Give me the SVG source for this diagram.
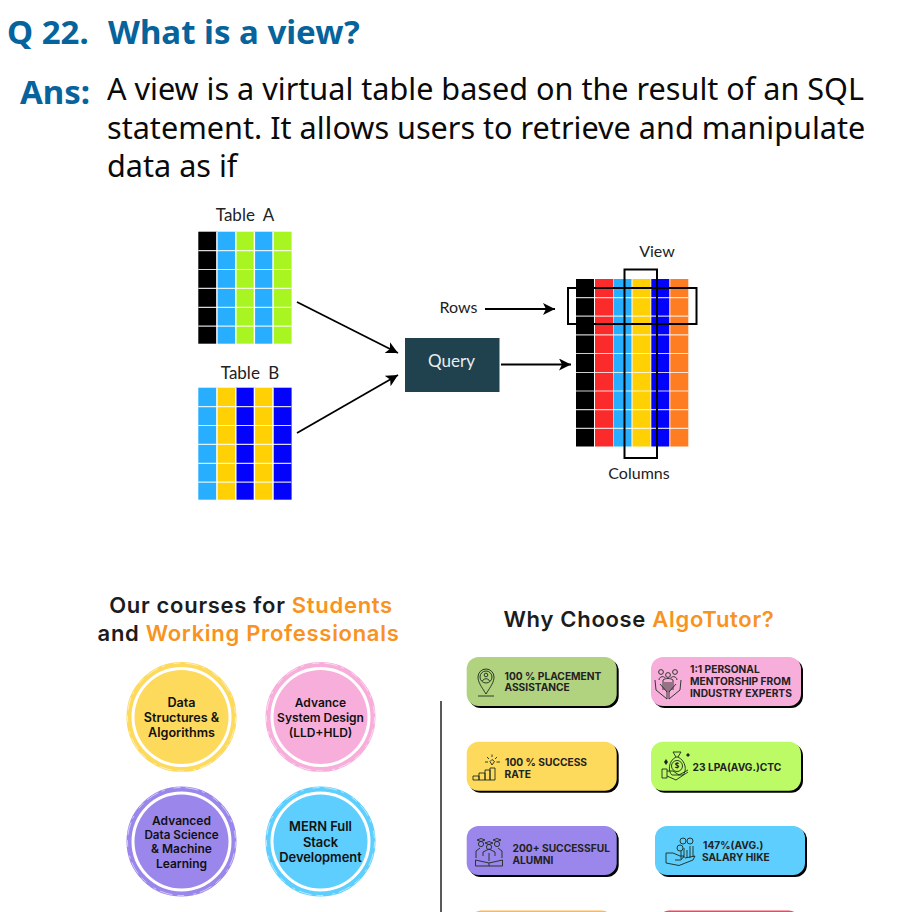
<svg xmlns="http://www.w3.org/2000/svg" width="910" height="912" viewBox="0 0 910 912">
<defs>
<marker id="ah" markerUnits="userSpaceOnUse" markerWidth="14" markerHeight="14" refX="12" refY="6" orient="auto"><path d="M0 0L12 6L0 12L3 6Z" fill="#000"/></marker>
<g id="g6"><path d="M0 18.9H93M0 37.8H93M0 56.7H93M0 75.6H93M0 94.5H93" stroke="#fff" stroke-width="1.2" opacity=".85"/><path d="M18.6 0V112.5M37.5 0V112.5M56.1 0V112.5M74.7 0V112.5" stroke="#fff" stroke-width="1.4"/></g>
</defs>
<style>
text{font-family:"Noto Sans","Open Sans",sans-serif}
.h{font-size:33px;font-weight:700;fill:#06639b}
.b{font-size:30.6px;fill:#0a0a0a}
.d{font-family:Lato,"Noto Sans",sans-serif;font-size:16px;fill:#222}
.tb{font-size:17px;word-spacing:4px}
.t{font-family:Inter,"Noto Sans",sans-serif;font-weight:600;font-size:22px;letter-spacing:.7px;fill:#1c1c1c}
.o{fill:#f7931e}
.c{font-family:Inter,"Noto Sans",sans-serif;font-weight:600;font-size:12.6px;fill:#111;text-anchor:middle}
.k{font-family:Inter,"Noto Sans",sans-serif;font-weight:700;font-size:10.2px;fill:#222}
.i{fill:none;stroke:#1d2a1d;stroke-width:.9}
.ol{fill:none;stroke-width:5}
.tr{fill:none;stroke:#fff;stroke-width:.8;stroke-dasharray:7 5 13 4 3 9;opacity:.7}
.box{fill:none;stroke:#000;stroke-width:2}
</style>
<rect width="910" height="912" fill="#fff"/>
<g id="header">
<text class="h" x="7" y="44">Q 22.</text>
<text class="h" x="108" y="44">What is a view?</text>
<text class="h" x="20" y="104">Ans:</text>
<text class="b" x="107" y="100">A view is a virtual table based on the result of an SQL</text>
<text class="b" x="107" y="139">statement. It allows users to retrieve and manipulate</text>
<text class="b" x="107" y="177">data as if</text>
</g>
<g id="table-a">
<text class="d tb" x="245" y="221" text-anchor="middle">Table A</text>
<g transform="translate(198.3 231.7)">
<rect width="18.6" height="112" fill="#000"/><rect x="18.6" width="18.9" height="112" fill="#27aefe"/><rect x="37.5" width="18.6" height="112" fill="#a8f521"/><rect x="56.1" width="18.6" height="112" fill="#27aefe"/><rect x="74.7" width="18.6" height="112" fill="#a8f521"/>
<use href="#g6"/></g>
</g>
<g id="table-b">
<text class="d tb" x="250" y="379" text-anchor="middle">Table B</text>
<g transform="translate(198.3 387.7)">
<rect width="18.6" height="112" fill="#27aefe"/><rect x="18.6" width="18.9" height="112" fill="#ffd105"/><rect x="37.5" width="18.6" height="112" fill="#0303fb"/><rect x="56.1" width="18.6" height="112" fill="#ffd105"/><rect x="74.7" width="18.6" height="112" fill="#0303fb"/>
<use href="#g6"/></g>
</g>
<g id="query">
<rect x="405" y="338" width="94.500" height="54" fill="#20424f"/>
<text x="451.500" y="367" text-anchor="middle" class="d" style="font-size:17px;fill:#e8eef0">Query</text>
</g>
<g id="view">
<text class="d" x="657" y="257" text-anchor="middle">View</text>
<rect x="576" y="279" width="18" height="167.500" fill="#000"/>
<rect x="595" y="279" width="18" height="167.500" fill="#fc2b2b"/>
<rect x="613.500" y="279" width="18" height="167.500" fill="#27aefe"/>
<rect x="632.500" y="279" width="18" height="167.500" fill="#ffd105"/>
<rect x="651.300" y="279" width="18" height="167.500" fill="#0303fb"/>
<rect x="670.300" y="279" width="18" height="167.500" fill="#fe7c22"/>
<path d="M576 297.700H688M576 316.200H688M576 334.900H688M576 353.500H688M576 372.500H688M576 391H688M576 409.700H688M576 428.300H688" stroke="#fff" stroke-width="1.200" opacity=".8"/>
<rect class="box" x="568" y="288" width="128.500" height="36"/>
<rect class="box" x="624.500" y="269.500" width="32.500" height="188.500"/>
</g>
<g id="label-rows"><text class="d" x="458.500" y="313" text-anchor="middle">Rows</text></g>
<g id="label-columns"><text class="d" x="639" y="479" text-anchor="middle">Columns</text></g>
<g id="connectors" fill="none" stroke="#000" stroke-width="1.800">
<path d="M297 302L398 353" marker-end="url(#ah)"/>
<path d="M297 433L398 375" marker-end="url(#ah)"/>
<path d="M485 309H555" marker-end="url(#ah)"/>
<path d="M501 364.500H571" marker-end="url(#ah)"/>
<path d="M441 701V912" stroke="#222" stroke-width="1.500"/>
</g>
<g id="courses-title">
<text class="t" x="251" y="613" text-anchor="middle">Our courses for <tspan class="o">Students</tspan></text>
<text class="t" x="248.500" y="641" text-anchor="middle">and <tspan class="o">Working Professionals</tspan></text>
</g>
<g id="course-dsa">
<circle cx="181.500" cy="717" r="47" fill="#fdd95c"/><circle class="ol" cx="181.500" cy="717" r="52.500" stroke="#fdd95c"/><circle class="tr" cx="181.500" cy="717" r="54"/>
<text class="c" x="181.500" y="706.500">Data</text><text class="c" x="181.500" y="721.500">Structures &amp;</text><text class="c" x="181.500" y="737">Algorithms</text>
</g>
<g id="course-system" style="font-size:12px">
<circle cx="320.500" cy="717" r="47" fill="#f8aedb"/><circle class="ol" cx="320.500" cy="717" r="52.500" stroke="#f8aedb"/><circle class="tr" cx="320.500" cy="717" r="54"/>
<text class="c" style="font-size:12px" x="320.500" y="707">Advance</text><text class="c" style="font-size:12px" x="320.500" y="721.500">System Design</text><text class="c" style="font-size:12px" x="320.500" y="736.500">(LLD+HLD)</text>
</g>
<g id="course-ds">
<circle cx="181.500" cy="841.500" r="47" fill="#9b87ec"/><circle class="ol" cx="181.500" cy="841.500" r="52.500" stroke="#9b87ec"/><circle class="tr" cx="181.500" cy="841.500" r="54"/>
<text class="c" style="font-size:12px" x="181.500" y="824.500">Advanced</text><text class="c" style="font-size:11.700px" x="181.500" y="839">Data Science</text><text class="c" style="font-size:12px" x="181.500" y="853">&amp; Machine</text><text class="c" style="font-size:12px" x="181.500" y="867.500">Learning</text>
</g>
<g id="course-mern">
<circle cx="320.500" cy="841.500" r="47" fill="#5dcefd"/><circle class="ol" cx="320.500" cy="841.500" r="52.500" stroke="#5dcefd"/><circle class="tr" cx="320.500" cy="841.500" r="54"/>
<text class="c" style="font-size:12.900px" x="320.500" y="831">MERN Full</text><text class="c" style="font-size:12.900px" x="320.500" y="846.500">Stack</text><text class="c" style="font-size:12.900px" x="320.500" y="862">Development</text>
</g>
<g id="why-title"><text class="t" x="639" y="627" text-anchor="middle">Why Choose <tspan class="o">AlgoTutor?</tspan></text></g>
<g id="card-placement">
<rect x="468.700" y="659" width="150" height="49" rx="12" fill="#000"/><rect x="466.700" y="657" width="150" height="49" rx="12" fill="#b1d27f"/>
<path class="i" d="M486 694C481 686 478 682 478 677A8 8 0 0 1 494 677C494 682 491 686 486 694ZM478 696H494"/><circle class="i" cx="486" cy="677" r="6"/><circle class="i" cx="486" cy="675" r="1.800"/><path class="i" d="M482.500 681C483.500 678 488.500 678 489.500 681"/>
<text class="k" x="504.500" y="680">100 % PLACEMENT</text><text class="k" x="504.500" y="691">ASSISTANCE</text>
</g>
<g id="card-mentorship">
<rect x="653" y="659" width="150" height="49" rx="12" fill="#000"/><rect x="651" y="657" width="150" height="49" rx="12" fill="#f8aedb"/>
<path class="i" d="M655 680L656 690L667 699V692L660 684M681 680L680 690L669 699V692L676 684M663 690V680C665 678 671 678 673 680V690M665 690V682M667 692V682M669 692V682M671 690V682M659 680C659 676 665 676 665 678M677 680C677 676 671 676 671 678"/><circle class="i" cx="661" cy="672" r="2.400"/><circle class="i" cx="668" cy="675" r="2.400"/><circle class="i" cx="675" cy="672" r="2.400"/>
<text class="k" x="690" y="673">1:1 PERSONAL</text><text class="k" x="690" y="685">MENTORSHIP FROM</text><text class="k" x="690" y="697">INDUSTRY EXPERTS</text>
</g>
<g id="card-success">
<rect x="468.700" y="743.700" width="150" height="49" rx="12" fill="#000"/><rect x="466.700" y="741.700" width="150" height="49" rx="12" fill="#fdd95c"/>
<path class="i" d="M473 780V776H479V780M479 780V773H485V780M485 780V770H490V780M490 780V768H495V780M473 780H495M492 765L490 761.500L492 759.500L494.500 761.500ZM492 757V754.500M485 762H488M496.500 762H500M487 757L489 759M497 757L495 759"/>
<text class="k" x="505" y="766">100 % SUCCESS</text><text class="k" x="504.500" y="778">RATE</text>
</g>
<g id="card-ctc">
<rect x="653" y="743.700" width="150" height="49" rx="12" fill="#000"/><rect x="651" y="741.700" width="150" height="49" rx="12" fill="#bdfb66"/>
<path class="i" d="M673 752H681L678 757H676ZM676 757C668 761 668 772 672 775H683C687 771 686 761 678 757M662 769H667V778H662ZM667 771H673L679 775L688 770M667 776L676 780L688 772"/><circle class="i" cx="677" cy="766" r="5.500"/>
<text x="677" y="769" text-anchor="middle" style="font-size:8px;font-weight:700;fill:#222">$</text>
<path d="M664 762L666 759L668 762L666 765ZM686 755L688 753L690 755L688 757Z" fill="#222"/>
<text class="k" x="692.500" y="771">23 LPA(AVG.)CTC</text>
</g>
<g id="card-alumni">
<rect x="468.700" y="828" width="150" height="49" rx="12" fill="#000"/><rect x="466.700" y="826" width="150" height="49" rx="12" fill="#9b87ec"/>
<path class="i" d="M477 840L481 838.500L485 840L481 841.500ZM485 843L489 841.500L493 843L489 844.500ZM493 840L497 838.500L501 840L497 841.500ZM476 858V851L480 848M502 858V851L498 848M483 856V852L489 849L495 852V856M475.500 860L489 863L502.500 860V866H475.500ZM489 863V866M489 853V861"/><circle class="i" cx="481" cy="844" r="2.600"/><circle class="i" cx="489" cy="847" r="2.600"/><circle class="i" cx="497" cy="844" r="2.600"/>
<text class="k" x="512.500" y="852">200+ SUCCESSFUL</text><text class="k" x="512.500" y="864">ALUMNI</text>
</g>
<g id="card-hike">
<rect x="657" y="828" width="150" height="49" rx="12" fill="#000"/><rect x="655" y="826" width="150" height="49" rx="12" fill="#5dcefd"/>
<path class="i" d="M666 853H673L680 856H684L681 860H675M666 853V863L679 865.500L693 860L695 856L685 858M681 859V851M684 858V848M687 858V850M690 858V846M693 857V846"/><circle class="i" cx="683" cy="841" r="3"/><circle class="i" cx="690" cy="841" r="3"/><circle class="i" cx="680" cy="848" r="3"/>
<text class="k" x="703" y="849">147%(AVG.)</text><text class="k" x="702" y="861">SALARY HIKE</text>
</g>
<g id="card-cut-left"><rect x="473" y="910.500" width="137" height="12" rx="8" fill="#ffb84d"/></g>
<g id="card-cut-right"><rect x="661" y="910.500" width="136" height="12" rx="8" fill="#f0475e"/></g>
</svg>
